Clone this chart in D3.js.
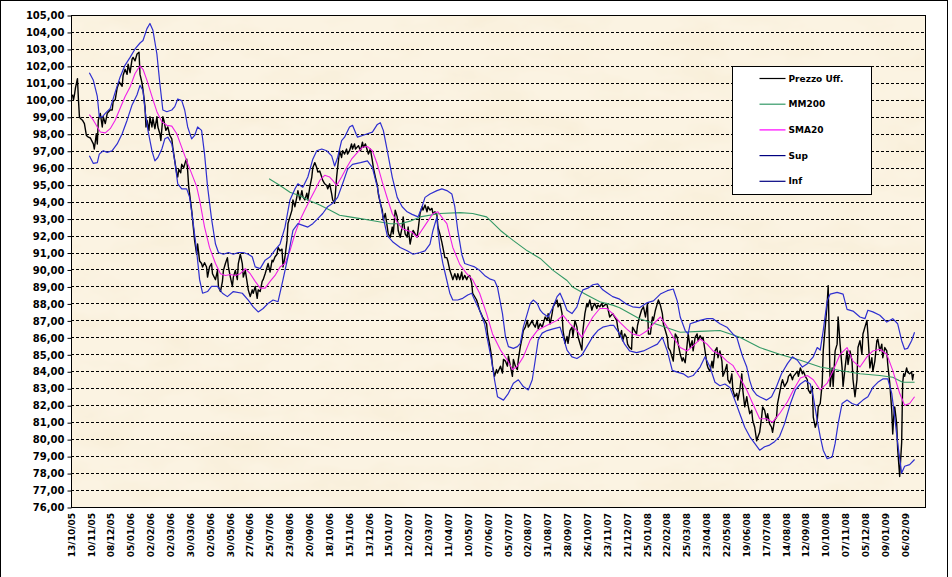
<html>
<head>
  <meta charset="utf-8">
  <script src="https://d3js.org/d3.v7.min.js"></script>
  <style>
    body { margin: 0; background: #fff; }
    text { font-family: 'DejaVu Sans', Verdana, sans-serif; font-weight: bold; fill: #000; }
  </style>
</head>
<body>
<svg id="chart" width="952" height="577"></svg>
<script>
// category labels, one every 20 trading days
var dateLabels = ['13/10/05','10/11/05','08/12/05','05/01/06','02/02/06','02/03/06','30/03/06','02/05/06',
  '30/05/06','27/06/06','25/07/06','23/08/06','20/09/06','18/10/06','15/11/06','13/12/06','15/01/07',
  '12/02/07','12/03/07','11/04/07','10/05/07','07/06/07','05/07/07','02/08/07','31/08/07','28/09/07',
  '26/10/07','23/11/07','21/12/07','25/01/08','22/02/08','25/03/08','23/04/08','22/05/08','19/06/08',
  '17/07/08','14/08/08','12/09/08','10/10/08','07/11/08','05/12/08','09/01/09','06/02/09']
var labelStep = 20
var nDays = 860
var yMin = 76, yMax = 105

// [trading day, value]
var price = [[1,100.3],[2,100.0],[3,100.3],[4,100.7],[6,101.25],[7,100.0],[8,99.0],[9,98.9],[11,98.8],[13,98.6],
  [15,97.9],[17,97.8],[19,97.75],[22,97.4],[23,97.1],[25,98.0],[26,97.4],[27,98.8],[29,99.2],[31,98.4],[32,99.0],
  [34,98.6],[36,99.2],[39,99.4],[41,99.4],[42,99.9],[44,100.0],[46,100.7],[48,101.05],[51,100.8],[52,101.45],
  [54,101.8],[56,101.5],[57,102.1],[59,101.6],[61,102.4],[62,102.5],[64,102.3],[66,102.7],[68,102.8],[69,101.5],
  [71,101.0],[72,100.6],[74,99.6],[75,98.4],[76,98.8],[78,98.2],[79,99.0],[81,98.4],[82,98.9],[84,98.3],[86,99.0],
  [87,98.4],[89,98.0],[90,97.6],[92,99.0],[93,98.8],[95,98.2],[97,98.4],[99,97.9],[101,97.7],[102,97.2],[104,96.4],
  [106,95.65],[107,95.45],[108,95.9],[110,95.7],[111,96.2],[113,96.0],[115,96.4],[116,96.5],[117,95.8],[118,94.9],
  [121,93.5],[124,91.7],[126,90.9],[127,91.5],[129,90.5],[131,90.35],[132,90.15],[134,90.4],[136,90.15],[137,89.55],
  [139,90.15],[141,90.35],[142,89.75],[145,89.4],[147,89.95],[148,88.98],[150,88.7],[152,89.3],[153,89.95],
  [155,90.35],[157,90.7],[158,90.15],[160,89.55],[162,89.0],[163,89.55],[165,89.95],[167,89.4],[168,90.35],
  [170,90.9],[172,90.35],[173,89.55],[175,89.95],[177,89.2],[178,88.8],[180,88.4],[182,88.8],[183,88.6],[185,89.0],
  [187,88.3],[188,88.8],[190,88.7],[192,89.3],[193,89.4],[195,89.75],[197,90.15],[198,90.35],[200,89.85],
  [202,90.55],[203,90.45],[205,90.75],[207,90.9],[208,91.3],[210,91.1],[212,91.2],[213,90.15],[215,90.75],
  [217,91.7],[218,92.7],[220,93.1],[222,93.5],[223,94.1],[225,93.7],[227,94.3],[228,94.65],[230,94.1],[232,94.65],
  [233,94.3],[235,94.1],[237,94.5],[238,94.1],[240,94.85],[242,95.45],[243,96.0],[245,96.3],[247,96.0],[248,95.75],
  [250,95.8],[252,95.45],[253,95.25],[255,95.05],[257,94.95],[258,94.75],[260,95.05],[262,94.45],[263,94.1],
  [265,93.9],[267,95.45],[268,96.0],[270,97.0],[272,96.6],[273,97.0],[275,96.8],[277,97.1],[278,96.8],[280,97.0],
  [282,97.4],[283,97.1],[285,97.4],[286,97.1],[289,97.3],[291,97.0],[293,97.5],[294,97.2],[296,97.4],[298,97.0],
  [299,96.8],[301,97.1],[303,96.4],[304,96.0],[306,95.45],[308,94.95],[309,94.45],[311,93.9],[313,93.5],[314,92.9],
  [316,93.3],[318,92.5],[319,92.1],[321,91.9],[323,92.5],[324,92.1],[326,93.5],[328,93.1],[329,92.3],[331,91.9],
  [333,92.5],[334,93.1],[336,92.1],[338,91.9],[339,92.5],[341,91.5],[343,92.1],[344,92.3],[346,92.1],[348,91.9],
  [349,92.3],[351,93.3],[353,93.7],[354,93.5],[356,93.8],[358,93.4],[359,93.7],[361,93.5],[363,93.6],[364,93.3],
  [366,93.4],[368,93.2],[369,92.5],[371,92.1],[373,91.6],[374,91.3],[376,90.7],[378,90.7],[379,90.5],[381,89.95],
  [383,89.6],[384,89.4],[386,89.75],[388,89.4],[389,89.75],[391,89.4],[393,89.85],[394,89.4],[396,89.65],
  [398,89.4],[399,89.55],[401,89.65],[403,89.2],[404,88.6],[408,88.2],[411,87.6],[414,87.2],[416,87.0],[418,86.8],
  [419,86.2],[421,85.6],[423,84.9],[424,84.3],[426,83.7],[428,84.1],[429,83.9],[432,84.3],[434,83.9],[435,84.7],
  [437,84.6],[439,84.3],[440,84.9],[442,84.3],[444,83.7],[445,84.7],[447,84.3],[449,84.1],[450,84.7],[452,85.45],
  [454,86.05],[455,86.4],[457,86.6],[459,87.0],[460,86.6],[462,86.8],[464,87.0],[465,86.8],[467,86.6],[469,87.0],
  [470,86.5],[472,86.8],[474,86.6],[475,86.8],[477,87.2],[479,87.0],[480,87.4],[482,86.8],[484,87.4],[485,87.8],
  [487,88.0],[489,88.2],[490,87.8],[492,88.0],[494,87.4],[495,86.4],[497,85.65],[499,86.05],[500,85.65],[502,86.4],
  [504,86.6],[505,86.05],[507,87.0],[509,86.6],[510,86.05],[512,85.65],[514,85.25],[515,86.4],[517,87.4],[519,88.0],
  [520,87.8],[522,88.2],[524,87.6],[525,87.8],[527,88.0],[529,87.7],[530,87.9],[532,87.8],[534,88.0],[535,87.8],
  [537,87.9],[539,88.0],[542,87.2],[545,87.4],[549,87.0],[550,86.6],[552,86.0],[554,86.4],[555,85.8],[557,86.2],
  [559,86.0],[560,85.6],[562,85.4],[564,85.3],[565,86.6],[567,86.4],[569,86.2],[570,86.7],[572,87.2],[574,87.6],
  [576,87.8],[578,87.2],[580,88.0],[581,86.2],[583,86.2],[585,87.2],[586,87.0],[588,87.6],[590,88.0],[591,88.2],
  [593,87.9],[595,87.4],[596,86.8],[598,86.4],[600,86.0],[601,85.4],[603,85.2],[605,84.8],[606,84.6],[608,86.2],
  [610,86.0],[611,85.6],[613,85.0],[615,84.6],[616,84.8],[618,84.5],[620,85.6],[621,86.2],[623,85.4],[625,85.8],
  [626,85.2],[628,86.0],[630,86.2],[631,85.8],[633,86.1],[635,85.9],[636,86.0],[638,85.2],[640,84.4],[641,84.2],
  [643,84.0],[645,84.6],[646,84.2],[648,85.2],[650,85.4],[651,84.8],[653,85.2],[655,84.6],[656,83.7],[658,84.0],
  [660,84.4],[661,83.5],[663,83.3],[665,83.85],[666,82.9],[668,82.5],[670,82.7],[671,82.3],[673,82.9],[675,83.85],
  [676,82.9],[678,81.9],[680,82.5],[681,82.1],[683,81.5],[685,81.7],[686,81.1],[688,80.7],[690,79.9],[691,80.1],
  [693,80.4],[695,81.3],[696,81.9],[698,81.7],[700,81.1],[701,81.5],[703,80.9],[705,80.7],[706,80.4],[708,81.1],
  [710,81.3],[711,82.1],[713,82.7],[715,83.3],[716,83.5],[718,83.1],[721,83.4],[722,83.7],[724,83.85],[726,83.5],
  [727,83.7],[729,83.85],[731,84.0],[732,83.7],[734,84.2],[736,83.85],[737,84.0],[739,83.7],[741,83.5],[742,82.9],
  [744,82.7],[746,83.1],[747,81.3],[749,80.7],[751,81.1],[752,81.9],[754,82.1],[756,83.3],[757,85.2],[759,86.6],
  [761,88.0],[762,89.05],[763,86.2],[764,83.1],[766,84.2],[767,83.1],[769,85.2],[771,85.6],[772,87.2],[774,85.6],
  [776,84.2],[777,83.1],[779,84.2],[781,85.2],[782,84.4],[784,85.2],[786,84.6],[787,83.5],[789,82.5],[791,83.5],
  [792,85.4],[794,85.8],[796,85.0],[797,86.2],[799,86.6],[801,87.0],[802,86.2],[804,84.2],[806,84.8],[807,84.0],
  [809,84.6],[811,85.8],[812,85.9],[814,85.2],[816,85.6],[817,84.8],[819,85.4],[821,85.2],[822,84.4],[824,83.3],
  [826,81.7],[827,80.3],[828,81.3],[829,81.9],[831,80.9],[832,79.4],[834,77.8],[836,79.8],[837,83.3],[838,83.85],
  [839,83.7],[841,84.2],[842,83.95],[844,83.85],[846,83.95],[847,83.5],[848,83.85]]

var mm200 = [[199,95.35],[210,94.95],[220,94.55],[230,94.35],[240,94.05],[250,93.8],[260,93.5],[270,93.2],
  [280,93.1],[291,93.0],[301,92.9],[311,92.8],[321,92.7],[331,92.7],[341,92.85],[351,93.1],[371,93.3],[391,93.35],
  [404,93.3],[418,93.1],[432,92.3],[445,91.7],[459,91.1],[472,90.65],[485,89.95],[499,89.35],[505,88.95],
  [519,88.5],[532,88.1],[545,87.9],[552,87.75],[572,87.1],[593,86.7],[613,86.3],[633,86.35],[653,86.4],[673,86.0],
  [693,85.4],[713,85.0],[734,84.65],[754,84.25],[774,84.05],[794,83.85],[814,83.75],[827,83.65],[837,83.35],
  [849,83.35]]

var sma20 = [[18,99.13],[22,98.8],[26,98.4],[29,98.1],[34,98.05],[39,98.3],[44,98.8],[49,99.5],[54,100.2],
  [59,100.75],[64,101.55],[69,102.0],[72,101.8],[76,101.15],[81,100.2],[86,99.3],[91,98.7],[96,98.5],[101,98.45],
  [106,98.0],[111,97.2],[116,96.4],[121,95.65],[126,94.9],[129,94.1],[134,92.5],[139,91.3],[145,90.35],[150,89.75],
  [155,89.65],[160,89.7],[165,89.65],[170,89.75],[175,90.05],[180,89.75],[185,89.3],[190,88.9],[195,88.9],
  [200,89.3],[205,89.65],[210,90.15],[215,90.35],[220,91.1],[225,92.1],[230,92.9],[235,93.5],[240,94.1],
  [245,94.65],[250,95.25],[255,95.55],[260,95.45],[263,95.25],[267,94.95],[272,95.45],[277,96.0],[282,96.5],
  [288,96.9],[293,97.2],[298,97.25],[303,97.0],[308,96.2],[313,95.15],[318,94.2],[323,93.3],[328,92.8],[333,92.4],
  [338,92.3],[343,92.2],[348,91.9],[356,92.6],[364,93.3],[369,93.4],[374,93.0],[378,92.7],[384,91.3],[391,90.3],
  [398,89.75],[404,89.4],[411,88.6],[418,87.4],[424,86.2],[432,85.25],[439,84.65],[444,84.1],[449,84.3],
  [455,84.85],[462,85.85],[469,86.4],[475,86.6],[482,86.8],[489,87.0],[495,87.3],[502,86.8],[509,86.4],[514,86.0],
  [519,86.6],[525,87.2],[532,87.7],[539,87.7],[545,87.4],[552,86.9],[559,86.5],[565,86.2],[572,86.1],[580,86.4],
  [586,86.8],[593,87.2],[600,86.6],[606,86.0],[613,85.4],[620,85.2],[626,85.5],[633,85.9],[640,85.6],[646,85.2],
  [653,85.0],[660,84.6],[666,84.35],[673,83.65],[680,82.9],[686,82.1],[693,81.2],[700,81.2],[706,81.0],[713,81.5],
  [721,82.2],[727,82.9],[734,83.6],[741,83.75],[747,83.5],[754,82.9],[761,83.3],[767,84.05],[774,85.0],[781,85.4],
  [787,84.6],[794,84.25],[801,84.85],[807,85.2],[814,85.3],[821,85.0],[827,84.05],[834,82.7],[839,82.0],
  [844,82.1],[849,82.5]]

var sup = [[18,101.6],[22,101.15],[26,100.2],[28,99.0],[31,99.0],[34,99.2],[39,99.5],[44,100.45],[49,101.35],
  [54,102.05],[59,102.5],[64,103.0],[69,103.35],[72,103.5],[76,104.2],[79,104.5],[82,104.1],[86,102.7],[89,100.95],
  [92,99.4],[96,99.3],[101,99.4],[104,99.6],[107,100.05],[111,99.95],[114,99.4],[117,98.4],[121,97.7],[124,97.9],
  [127,98.4],[131,98.2],[134,96.8],[137,94.9],[141,93.0],[145,91.5],[148,91.0],[153,90.9],[158,91.0],[163,90.9],
  [168,91.0],[173,91.0],[178,90.9],[182,90.75],[185,90.15],[190,90.05],[195,90.55],[200,90.75],[205,91.15],
  [210,91.5],[215,92.5],[220,94.1],[225,94.75],[228,95.05],[233,94.85],[238,95.45],[243,96.5],[247,97.0],
  [252,97.1],[257,97.0],[262,96.7],[265,96.1],[268,96.6],[272,97.6],[275,97.8],[280,98.4],[283,98.5],[288,97.8],
  [293,97.9],[298,98.0],[303,98.1],[308,98.55],[311,98.65],[314,98.2],[318,97.0],[323,95.45],[328,94.25],
  [333,93.7],[338,93.4],[343,93.25],[349,93.1],[353,93.7],[356,94.25],[361,94.45],[368,94.65],[373,94.75],
  [378,94.65],[383,94.45],[386,93.7],[389,92.3],[393,90.9],[396,90.35],[401,90.25],[406,90.15],[411,89.95],
  [416,89.65],[421,89.45],[426,89.35],[429,88.95],[434,87.4],[437,86.05],[440,85.45],[445,85.35],[449,85.45],
  [452,85.65],[455,86.6],[459,87.4],[462,88.0],[465,88.2],[469,88.0],[472,87.6],[475,87.4],[480,87.2],[485,87.8],
  [489,88.4],[492,88.6],[495,88.2],[499,87.6],[504,87.4],[509,87.8],[512,88.4],[515,88.8],[520,88.9],[525,89.1],
  [530,89.15],[535,88.8],[540,88.6],[545,88.4],[552,88.25],[559,87.95],[565,87.8],[572,87.75],[580,88.05],
  [586,88.15],[593,88.55],[600,88.75],[606,88.85],[610,88.15],[613,87.2],[618,86.4],[621,86.2],[623,86.8],
  [628,86.9],[633,87.0],[640,87.1],[646,87.1],[653,86.8],[660,86.6],[666,86.2],[670,86.0],[673,85.4],[676,84.85],
  [680,84.25],[683,83.45],[686,82.9],[690,82.6],[693,82.5],[700,82.3],[705,82.5],[710,83.1],[715,83.85],
  [721,84.45],[726,84.85],[731,84.65],[736,84.25],[741,84.45],[747,84.85],[751,85.4],[754,85.25],[757,86.4],
  [761,88.15],[764,88.55],[771,88.65],[777,88.55],[781,87.65],[787,87.55],[794,87.2],[799,87.1],[802,87.6],
  [807,87.5],[814,87.3],[821,86.9],[827,87.1],[832,86.8],[836,85.8],[839,85.3],[842,85.35],[846,85.8],[849,86.3]]

var inf = [[18,96.7],[22,96.25],[26,96.3],[28,96.8],[32,97.0],[36,96.9],[41,97.0],[46,97.4],[51,98.0],[56,98.8],
  [61,99.7],[66,100.3],[69,100.85],[72,100.55],[74,99.4],[77,98.2],[81,97.0],[84,96.4],[87,96.6],[91,97.1],
  [94,97.7],[97,97.8],[101,97.4],[104,96.4],[107,95.05],[111,94.75],[116,94.75],[119,94.25],[122,93.0],[126,91.1],
  [129,89.4],[132,88.6],[137,88.7],[141,89.0],[147,89.0],[152,88.6],[157,88.4],[163,88.7],[172,88.6],[178,88.2],
  [183,87.8],[188,87.5],[193,87.7],[198,88.0],[203,88.2],[208,88.1],[213,89.4],[218,90.75],[223,92.3],[228,92.7],
  [233,92.6],[238,92.5],[243,92.7],[248,93.0],[253,93.3],[258,93.7],[263,93.9],[268,94.25],[273,95.05],[278,95.9],
  [283,96.2],[291,96.3],[298,96.4],[303,96.0],[308,94.85],[313,93.3],[318,92.0],[324,91.6],[331,91.3],[338,91.1],
  [344,90.9],[351,91.0],[356,91.1],[361,91.5],[364,92.3],[368,93.1],[369,92.3],[371,91.3],[374,90.35],[378,89.35],
  [381,88.6],[384,88.2],[389,88.2],[394,88.3],[399,88.5],[403,88.6],[406,88.2],[411,87.6],[416,86.8],[419,85.85],
  [423,84.65],[426,83.5],[429,82.5],[435,82.3],[440,82.7],[445,83.3],[450,83.5],[455,83.1],[460,82.9],[464,83.5],
  [467,84.65],[470,85.85],[474,86.25],[479,86.4],[485,86.5],[492,86.6],[495,86.05],[499,85.25],[504,84.85],
  [509,84.75],[514,84.95],[519,85.45],[525,86.05],[530,86.4],[535,86.6],[542,86.7],[546,86.7],[552,86.2],
  [557,85.6],[562,85.2],[569,85.1],[576,85.2],[583,85.4],[590,85.6],[595,86.0],[600,85.2],[605,84.05],[610,83.95],
  [616,83.85],[621,83.65],[626,83.75],[633,84.25],[638,84.85],[643,84.25],[648,83.35],[653,83.15],[658,83.25],
  [663,83.05],[668,82.3],[673,81.5],[678,80.7],[683,80.15],[688,79.75],[693,79.35],[698,79.55],[703,79.65],
  [708,79.85],[713,80.15],[718,80.9],[724,82.1],[729,82.9],[734,83.25],[739,83.45],[744,83.25],[747,82.5],
  [751,81.1],[754,80.15],[757,79.35],[761,78.85],[766,78.95],[769,79.75],[772,80.9],[776,82.1],[781,82.3],
  [786,82.1],[791,82.0],[797,82.3],[802,82.5],[807,83.05],[812,83.35],[817,83.55],[822,83.55],[826,82.7],
  [829,81.3],[832,79.75],[836,78.0],[839,78.4],[844,78.5],[849,78.8]]

var series = [
  { name: 'Prezzo Uff.', data: price, color: '#000000', width: 1.4, key: '#000000' },
  { name: 'MM200', data: mm200, color: '#339966', width: 1.1, key: '#339966' },
  { name: 'SMA20', data: sma20, color: '#f020e8', width: 1.1, key: '#ff00ff' },
  { name: 'Sup', data: sup, color: '#2f2fd0', width: 1.2, key: '#000080' },
  { name: 'Inf', data: inf, color: '#2f2fd0', width: 1.2, key: '#000080' }
]

var svg = d3.select('#chart')
var plot = { left: 71, right: 925, top: 15, bottom: 507 }

var x = d3.scaleLinear().domain([0, nDays]).range([plot.left, plot.right])
var y = d3.scaleLinear().domain([yMin, yMax]).range([plot.bottom, plot.top])

// parchment-like texture for the plot area
var defs = svg.append('defs')
var paper = defs.append('filter').attr('id', 'paper')
  .attr('x', 0).attr('y', 0).attr('width', '100%').attr('height', '100%')
paper.append('feTurbulence')
  .attr('type', 'fractalNoise').attr('baseFrequency', '0.015 0.03')
  .attr('numOctaves', 4).attr('seed', 7)
paper.append('feColorMatrix').attr('type', 'matrix')
  .attr('values', '0 0 0 0 0.93  0 0 0 0 0.84  0 0 0 0 0.66  1.4 0 0 0 -0.6')

// outer chart frame
svg.append('rect')
  .attr('x', 0.5).attr('y', 0.5).attr('width', 947).attr('height', 590)
  .attr('fill', '#fff').attr('stroke', '#000')

// plot background
svg.append('rect')
  .attr('x', plot.left).attr('y', plot.top)
  .attr('width', plot.right - plot.left).attr('height', plot.bottom - plot.top)
  .attr('fill', '#fbf3e2')
svg.append('rect')
  .attr('x', plot.left).attr('y', plot.top)
  .attr('width', plot.right - plot.left).attr('height', plot.bottom - plot.top)
  .attr('fill', '#fff')
  .attr('filter', 'url(#paper)')

// dashed grid
svg.append('g')
  .selectAll('line')
  .data(d3.range(yMin + 1, yMax + 1))
  .enter().append('line')
  .attr('x1', plot.left).attr('x2', plot.right)
  .attr('y1', function (d) { return Math.round(y(d)) + 0.5 })
  .attr('y2', function (d) { return Math.round(y(d)) + 0.5 })
  .attr('stroke', '#000').attr('stroke-width', 1)
  .attr('stroke-dasharray', '3,2')

// y axis
var yAxis = d3.axisLeft(y)
  .tickValues(d3.range(yMin, yMax + 1))
  .tickSize(4).tickPadding(3)
  .tickFormat(function (d) { return d3.format('.2f')(d).replace('.', ',') })
svg.append('g')
  .attr('transform', 'translate(' + (plot.left + 0.5) + ',0.5)')
  .call(yAxis)
  .call(function (g) {
    g.select('.domain').remove()
    g.selectAll('.tick line').attr('stroke', '#000')
    g.selectAll('.tick text').attr('font-size', 10).attr('font-family', 'DejaVu Sans').attr('font-weight', 'bold')
  })

// x labels, rotated
svg.append('g')
  .selectAll('text')
  .data(dateLabels)
  .enter().append('text')
  .attr('transform', function (d, i) {
    return 'translate(' + x(i * labelStep + 0.5) + ',513) rotate(-90)'
  })
  .attr('text-anchor', 'end')
  .attr('dy', '0.35em')
  .attr('font-size', 9)
  .text(function (d) { return d })

// series lines
var line = d3.line()
  .x(function (d) { return x(d[0] + 0.5) })
  .y(function (d) { return y(d[1]) })

svg.append('g')
  .selectAll('path')
  .data(series)
  .enter().append('path')
  .attr('d', function (s) { return line(s.data) })
  .attr('fill', 'none')
  .attr('stroke', function (s) { return s.color })
  .attr('stroke-width', function (s) { return s.width })
  .attr('stroke-linejoin', 'round')

// plot border
svg.append('rect')
  .attr('x', plot.left + 0.5).attr('y', plot.top + 0.5)
  .attr('width', plot.right - plot.left).attr('height', plot.bottom - plot.top)
  .attr('fill', 'none').attr('stroke', '#000')

// legend
var legend = svg.append('g').attr('transform', 'translate(732.5,66.5)')
legend.append('rect')
  .attr('width', 139).attr('height', 128)
  .attr('fill', '#fff').attr('stroke', '#000')
var item = legend.selectAll('.item')
  .data(series)
  .enter().append('g')
  .attr('class', 'item')
  .attr('transform', function (d, i) { return 'translate(0,' + (12 + i * 25.7) + ')' })
item.append('line')
  .attr('x1', 27).attr('x2', 53)
  .attr('stroke', function (d) { return d.key })
  .attr('stroke-width', 1.2)
item.append('text')
  .attr('x', 56).attr('dy', '0.35em')
  .attr('font-size', 9)
  .text(function (d) { return d.name })
</script>
</body>
</html>
